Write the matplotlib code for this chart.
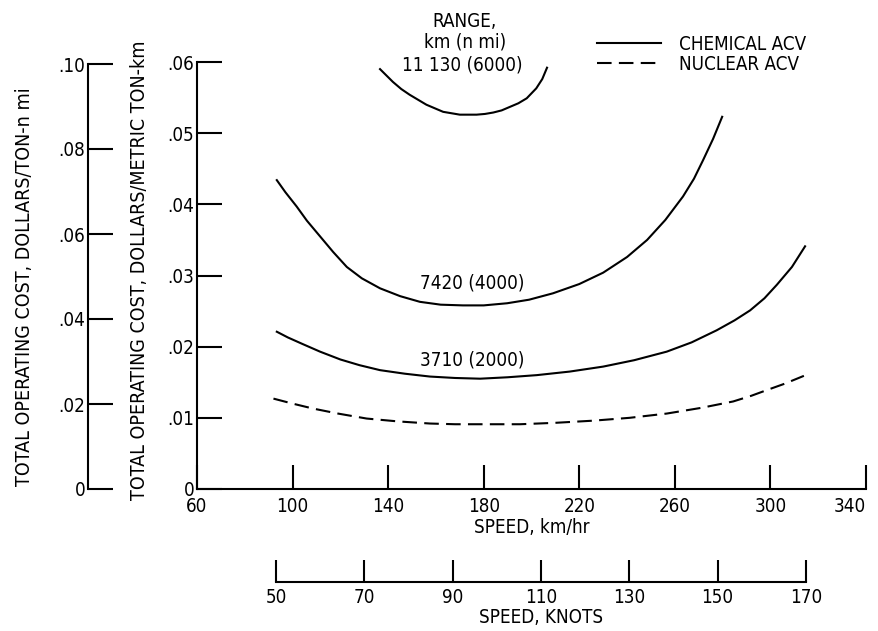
import numpy as np
import matplotlib
matplotlib.use("Agg")
from matplotlib import pyplot as plt

plt.rcParams["font.family"] = ["DejaVu Sans"]
plt.rcParams["font.stretch"] = "condensed"
plt.rcParams["font.size"] = 13.5

# range curves, speed in km/hr, cost in dollars per metric ton-km
speed6000 = [136.6, 139, 142, 145.5, 149, 152.5, 156, 159.5, 163, 166.5, 170, 173.5,
             177, 180.5, 184, 187.5, 191, 194.5, 198, 202, 204.5, 206.5]
cost6000 = [0.0590, 0.0582, 0.0572, 0.0562, 0.0554, 0.0547, 0.0540, 0.0535, 0.0530, 0.0528, 0.0526, 0.0526,
            0.0526, 0.0527, 0.0529, 0.0532, 0.0537, 0.0542, 0.0549, 0.0563, 0.0576, 0.0592]

speed4000 = [93.4, 97, 101.7, 106, 111.5, 117, 122.7, 129, 136.6, 145, 153.3, 162, 171.3, 180,
             189.8, 199, 209, 220, 230, 240, 248.4, 256, 263.4, 268, 271.8, 276, 279.8]
cost4000 = [0.0434, 0.0417, 0.0397, 0.0377, 0.0355, 0.0333, 0.0312, 0.0296, 0.0282, 0.0271, 0.0263, 0.0259, 0.0258, 0.0258,
            0.0261, 0.0266, 0.0275, 0.0288, 0.0304, 0.0326, 0.0350, 0.0378, 0.0411, 0.0436, 0.0462, 0.0492, 0.0523]

speed2000 = [93.4, 98, 104, 111.5, 120, 128, 136.6, 147, 157.5, 168, 178.5, 190, 202.2, 216, 230,
             243, 256.6, 267, 277.5, 285, 291.5, 297.5, 302.7, 309, 314.5]
cost2000 = [0.0221, 0.0213, 0.0204, 0.0193, 0.0182, 0.0174, 0.0167, 0.0162, 0.0158, 0.0156, 0.0155, 0.0157, 0.0160, 0.0165, 0.0172,
            0.0181, 0.0193, 0.0206, 0.0223, 0.0237, 0.0251, 0.0268, 0.0287, 0.0312, 0.0341]

speedNuclear = [92, 100, 108.6, 119, 131, 144, 157.5, 168, 178.5, 195.2, 210, 225.8, 241, 256.6,
                271, 284.4, 292, 298.5, 306, 314]
costNuclear = [0.0127, 0.0120, 0.0113, 0.0106, 0.0099, 0.0095, 0.0092, 0.0091, 0.0091, 0.0091, 0.0093, 0.0096, 0.0100, 0.0106,
               0.0114, 0.0123, 0.0131, 0.0139, 0.0148, 0.0159]

kmTicks = [60, 100, 140, 180, 220, 260, 300, 340]
costTicks = [0, 0.01, 0.02, 0.03, 0.04, 0.05, 0.06]
costTickLabels = ["0", ".01", ".02", ".03", ".04", ".05", ".06"]
nmiTicks = [0, 0.02, 0.04, 0.06, 0.08, 0.10]
nmiTickLabels = ["0", ".02", ".04", ".06", ".08", ".10"]
knotTicks = [50, 70, 90, 110, 130, 150, 170]

W, H = 879, 631
LW = 1.5


def figRect(x0, y0, x1, y1):
    # pixel box -> figure fraction
    return [x0 / W, 1 - y1 / H, (x1 - x0) / W, (y1 - y0) / H]


def onlySpine(axis, keep):
    for name, spine in axis.spines.items():
        spine.set_visible(name == keep)
        spine.set_linewidth(LW)
    axis.patch.set_visible(False)


figure = plt.figure(figsize=(W / 100, H / 100), dpi=100)

# main axes
axis = figure.add_axes(figRect(197, 62, 866, 489))
onlySpine(axis, "left")
axis.spines["bottom"].set_visible(True)
axis.set_xlim(60, 340)
axis.set_ylim(0, 0.06)
axis.set_xticks(kmTicks)
axis.set_yticks(costTicks)
axis.set_yticklabels(costTickLabels)
axis.tick_params(axis="y", direction="in", length=18, width=LW, pad=2)
axis.tick_params(axis="x", direction="in", length=17, width=LW, pad=6)
# keep the last speed label inside the picture
axis.get_xticklabels()[-1].set_horizontalalignment("right")
axis.get_yticklabels()[0].set_verticalalignment("center_baseline")
axis.set_xlabel("SPEED, km/hr", labelpad=1)

axis.plot(speed6000, cost6000, color="black", lw=LW, label="CHEMICAL ACV")
axis.plot(speed4000, cost4000, color="black", lw=LW)
axis.plot(speed2000, cost2000, color="black", lw=LW)
axis.plot(speedNuclear, costNuclear, color="black", lw=LW, dashes=(7, 3.5), label="NUCLEAR ACV")

axis.text(172, 0.0657, "RANGE,", ha="center", va="center")
axis.text(172, 0.0628, "km (n mi)", ha="center", va="center")
axis.text(171, 0.0596, "11 130 (6000)", ha="center", va="center")
axis.text(175, 0.0289, "7420 (4000)", ha="center", va="center")
axis.text(175, 0.0181, "3710 (2000)", ha="center", va="center")

axis.legend(loc="upper left", bbox_to_anchor=(597 / W, 1 - 35 / H),
            bbox_transform=figure.transFigure, frameon=False, borderpad=0,
            handlelength=3.4, handletextpad=0.95, labelspacing=0.05, borderaxespad=0)

# outer cost axis, dollars per ton-n mi
nmiAxis = figure.add_axes(figRect(88, 64, 89, 489))
onlySpine(nmiAxis, "left")
nmiAxis.set_ylim(0, 0.10)
nmiAxis.set_xticks([])
nmiAxis.set_yticks(nmiTicks)
nmiAxis.set_yticklabels(nmiTickLabels)
nmiAxis.tick_params(axis="y", direction="in", length=18, width=LW, pad=2)

# knots axis
knotAxis = figure.add_axes(figRect(276, 581, 806, 582))
onlySpine(knotAxis, "bottom")
knotAxis.set_xlim(50, 170)
knotAxis.set_yticks([])
knotAxis.set_xticks(knotTicks)
knotAxis.tick_params(axis="x", direction="in", length=16, width=LW, pad=4)
knotAxis.set_xlabel("SPEED, KNOTS", labelpad=1)

figure.text(25 / W, 1 - 287 / H, "TOTAL OPERATING COST, DOLLARS/TON-n mi",
            rotation=90, ha="center", va="center", fontsize=14)
figure.text(140 / W, 1 - 270 / H, "TOTAL OPERATING COST, DOLLARS/METRIC TON-km",
            rotation=90, ha="center", va="center", fontsize=14)

figure.savefig("out.png", dpi=100)
